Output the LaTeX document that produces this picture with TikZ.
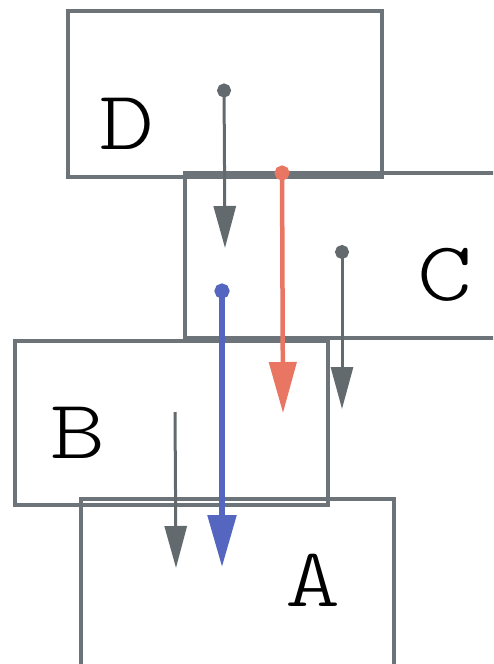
\documentclass[tikz,border=0pt]{standalone}
\usepackage{fontspec}
\newfontfamily\lblfont{lmmonolt10-regular.otf}
\usetikzlibrary{arrows.meta}
\definecolor{boxgray}{RGB}{108,116,122}
\definecolor{arrgray}{RGB}{98,106,110}
\definecolor{arrred}{RGB}{232,118,98}
\definecolor{arrblue}{RGB}{84,102,192}
\tikzset{
  box/.style={draw=boxgray, line width=3.3pt, inner sep=0pt, outer sep=0pt, anchor=north west},
  lbl/.style={font=\lblfont\fontsize{84}{84}\selectfont, inner sep=0pt, xscale=1.25},
  grayarr/.style={draw=arrgray, fill=arrgray, line width=3pt, -{Triangle[length=42pt,width=22pt]}},
  graydot/.style={{Circle[length=14pt]}-{Triangle[length=42pt,width=22pt]}},
  redarr/.style={draw=arrred, fill=arrred, line width=4.5pt, {Circle[length=15pt]}-{Triangle[length=51pt,width=27pt]}},
  bluearr/.style={draw=arrblue, fill=arrblue, line width=5.5pt, {Circle[length=15pt]}-{Triangle[length=52pt,width=28pt]}}
}
\begin{document}
\begin{tikzpicture}[x=1pt,y=-1pt]
\useasboundingbox (0,0) rectangle (493,664);
\clip (0,0) rectangle (493,664);
% boxes
\node[box, minimum width=314pt, minimum height=166pt] (D) at (68,11) {};
\node[box, minimum width=340pt, minimum height=165pt] (C) at (185,173) {};
\node[box, minimum width=313pt, minimum height=164pt] (B) at (15,341) {};
\node[box, minimum width=313pt, minimum height=175pt] (A) at (81,499) {};
% labels
\node[lbl] (lD) at (127,124) {D};
\node[lbl] (lC) at (445,275) {C};
\node[lbl] (lB) at (78,433) {B};
\node[lbl] (lA) at (313,580) {A};
% arrow end points
\coordinate (d1) at (224,83.5);
\coordinate (d2) at (225,248);
\coordinate (r1) at (282,165.5);
\coordinate (r2) at (283,413);
\coordinate (c1) at (342,245);
\coordinate (c2) at (342,409);
\coordinate (b1) at (222,283.5);
\coordinate (b2) at (222,567);
\coordinate (g1) at (175,412);
\coordinate (g2) at (176,568);
% arrows
\draw[grayarr, graydot] (d1) -- (d2);
\draw[grayarr, graydot] (c1) -- (c2);
\draw[grayarr] (g1) -- (g2);
\draw[redarr] (r1) -- (r2);
\draw[bluearr] (b1) -- (b2);
\end{tikzpicture}
\end{document}
